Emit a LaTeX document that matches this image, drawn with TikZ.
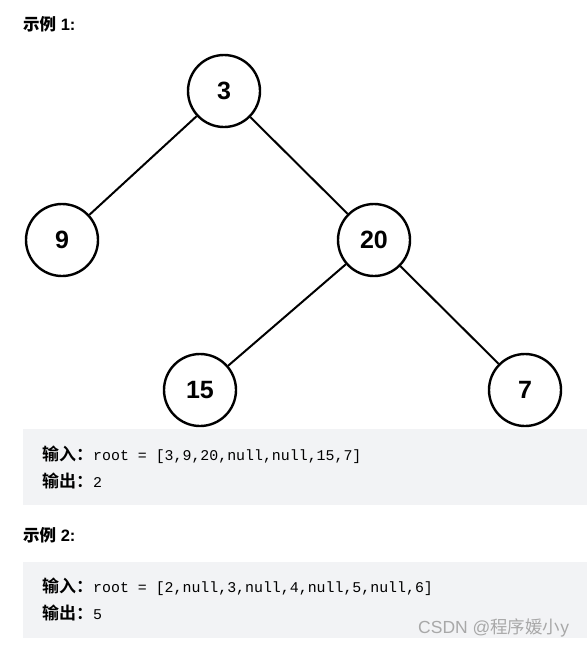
\documentclass[tikz,border=0pt]{standalone}
\usepackage{fontspec}
\setmainfont{Liberation Sans}
\newfontfamily\cjk{Noto Sans CJK SC}
\newfontfamily\cjkb{Noto Sans CJK SC Bold}
\newfontfamily\codefont{Liberation Mono}
\definecolor{boxgray}{HTML}{F2F3F5}
\definecolor{wm}{HTML}{A8A8A8}
\begin{document}
\begin{tikzpicture}[x=1pt,y=-1pt,
  tn/.style={circle,draw=black,line width=2.4pt,fill=white,minimum size=72pt,inner sep=0pt,font=\fontsize{25}{25}\selectfont\bfseries},
  edge/.style={line width=2pt,black},
  head/.style={anchor=west,inner sep=0pt,font=\fontsize{16.5}{16.5}\selectfont\bfseries},
  cn/.style={font=\fontsize{17}{17}\selectfont\cjkb},
  codeline/.style={anchor=west,inner sep=0pt,font=\fontsize{14.9}{15}\selectfont}
]
\path[use as bounding box,fill=white] (0,0) rectangle (587,648);
\node[head] (h1) at (23,24) {{\cjkb 示例} 1:};
\node[tn] (n3) at (224,91) {3};
\node[tn] (n9) at (62,240) {9};
\node[tn] (n20) at (374,240) {20};
\node[tn] (n15) at (200,390) {15};
\node[tn] (n7) at (525,390) {7};
\draw[edge] (n3) -- (n9);
\draw[edge] (n3) -- (n20);
\draw[edge] (n20) -- (n15);
\draw[edge] (n20) -- (n7);
\fill[boxgray] (23,429) rectangle (587,505);
\node[codeline] (l1) at (42,455) {{\fontsize{17}{17}\selectfont\cjkb 输入：}{\codefont root = [3,9,20,null,null,15,7]}};
\node[codeline] (l2) at (42,481) {{\fontsize{17}{17}\selectfont\cjkb 输出：}{\codefont 2}};
\node[head] (h2) at (23,535) {{\cjkb 示例} 2:};
\fill[boxgray] (23,562) rectangle (587,638);
\node[codeline] (l3) at (42,587) {{\fontsize{17}{17}\selectfont\cjkb 输入：}{\codefont root = [2,null,3,null,4,null,5,null,6]}};
\node[codeline] (l4) at (42,613) {{\fontsize{17}{17}\selectfont\cjkb 输出：}{\codefont 5}};
\node[anchor=west,inner sep=0pt,text=wm,font=\fontsize{17.5}{17.5}\selectfont] (wmk) at (418,628) {CSDN @{\cjk 程序媛小}y};
\end{tikzpicture}
\end{document}
